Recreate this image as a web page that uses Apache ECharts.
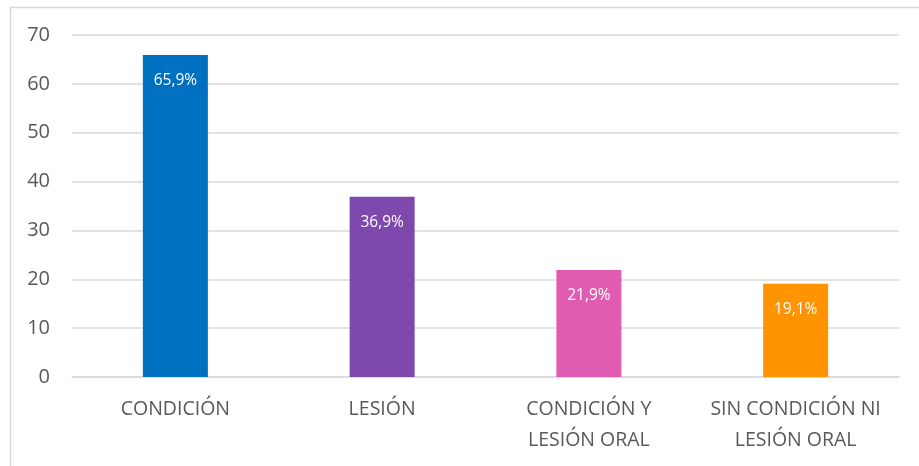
<!DOCTYPE html>
<html>
<head>
<meta charset="utf-8">
<script src="https://cdn.jsdelivr.net/npm/echarts@6/dist/echarts.min.js"></script>
<style>html,body{margin:0;padding:0;background:#fff;}#c{width:919px;height:466px;}</style>
</head>
<body>
<div id="c"></div>
<script>
const categories = ['CONDICIÓN', 'LESIÓN', 'CONDICIÓN Y\nLESIÓN ORAL', 'SIN CONDICIÓN NI\nLESIÓN ORAL'];
const values = [65.9, 36.9, 21.9, 19.1];
const labels = ['65,9%', '36,9%', '21,9%', '19,1%'];
const colors = ['#0070C0', '#7F48AD', '#E05CB3', '#FF9300'];
const yTicks = { min: 0, max: 70, interval: 10 };

const FONT = '"Open Sans", "Liberation Sans", sans-serif';
const chart = echarts.init(document.getElementById('c'));
chart.setOption({
  animation: false,
  backgroundColor: '#fff',
  graphic: [{
    type: 'rect', left: 8, top: 5,
    shape: { width: 930, height: 480 },
    style: { fill: 'none', stroke: '#d9d9d9', lineWidth: 1.5 },
    silent: true
  }],
  grid: { left: 72, right: 20, top: 35, bottom: 89, containLabel: false },
  xAxis: {
    type: 'category',
    data: categories,
    axisTick: { show: false },
    axisLine: { lineStyle: { color: '#d9d9d9', width: 1.5 } },
    axisLabel: { color: '#595959', fontSize: 19.5, fontFamily: FONT, margin: 17, lineHeight: 31, interval: 0 }
  },
  yAxis: {
    type: 'value',
    min: yTicks.min, max: yTicks.max, interval: yTicks.interval,
    axisLine: { show: false },
    axisTick: { show: false },
    axisLabel: { color: '#595959', fontSize: 20, fontFamily: FONT, margin: 22 },
    splitLine: { lineStyle: { color: '#d9d9d9', width: 1.5 } }
  },
  series: [{
    type: 'bar',
    barWidth: 65,
    data: values.map((v, i) => ({ value: v, itemStyle: { color: colors[i] } })),
    label: {
      show: true,
      position: 'insideTop',
      distance: 18,
      color: '#fff',
      fontSize: 15.5,
      fontFamily: FONT,
      formatter: p => labels[p.dataIndex]
    }
  }]
});
</script>
</body>
</html>
